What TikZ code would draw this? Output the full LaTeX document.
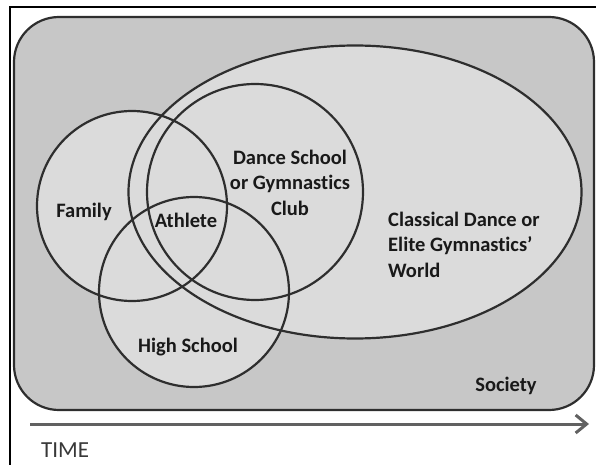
\documentclass[tikz,border=0pt]{standalone}
\usepackage{fontspec}
\setmainfont{Carlito}[Ligatures={NoCommon}]
\usetikzlibrary{shapes.geometric,arrows.meta}
\definecolor{outerfill}{gray}{0.78}
\definecolor{innerfill}{gray}{0.86}
\definecolor{edge}{gray}{0.18}
\begin{document}
\begin{tikzpicture}[x=1pt,y=-1pt,
  zone/.style={draw=edge, line width=2.2pt, inner sep=0pt},
  lbl/.style={font=\fontsize{20.5}{25.5}\selectfont\bfseries, text=black!90, inner sep=0pt, anchor=base},
  timeline/.style={draw=black!62, line width=3pt, -{Straight Barb[length=11pt,width=18pt]}}]
\useasboundingbox (0,0) rectangle (596,465);
% frame
\draw[line width=2pt] (10,465) -- (10,7) -- (596,7);
% society
\node[zone, fill=outerfill, rounded corners=45pt, minimum width=580pt, minimum height=393pt] (society) at (304,213.5) {};
% fills first, outlines after
\fill[innerfill] (355,192) ellipse[x radius=226.5pt, y radius=146.5pt];
\foreach \cx/\cy/\r in {132/206/95, 255/192/108, 194/292/95}
  \fill[innerfill] (\cx,\cy) circle[radius=\r pt];
\node[zone, ellipse, minimum width=453pt, minimum height=293pt] (world) at (355,192) {};
\node[zone, circle, minimum size=190pt] (family) at (132,206) {};
\node[zone, circle, minimum size=216pt] (club) at (255,192) {};
\node[zone, circle, minimum size=190pt] (school) at (194,292) {};
% labels (base of a multi-line node is its last line)
\node[lbl] (familylbl) at (84,217) {Family};
\node[lbl] (athletelbl) at (186,227) {Athlete};
\node[lbl, align=center] (clublbl) at (290,215) {Dance School\\or Gymnastics\\Club};
\node[lbl, align=left, anchor=base west] (worldlbl) at (388,277) {Classical Dance or\\Elite Gymnastics’\\World};
\node[lbl] (schoollbl) at (188,352) {High School};
\node[lbl] (societylbl) at (506,391) {Society};
% time axis
\coordinate (tstart) at (30,424);
\coordinate (tend) at (589,424);
\draw[timeline] (tstart) -- (tend);
\node[font=\fontsize{23}{27}\selectfont, text=black!78, inner sep=0pt, anchor=base west] (timelbl) at (41,457) {TIME};
\end{tikzpicture}
\end{document}
